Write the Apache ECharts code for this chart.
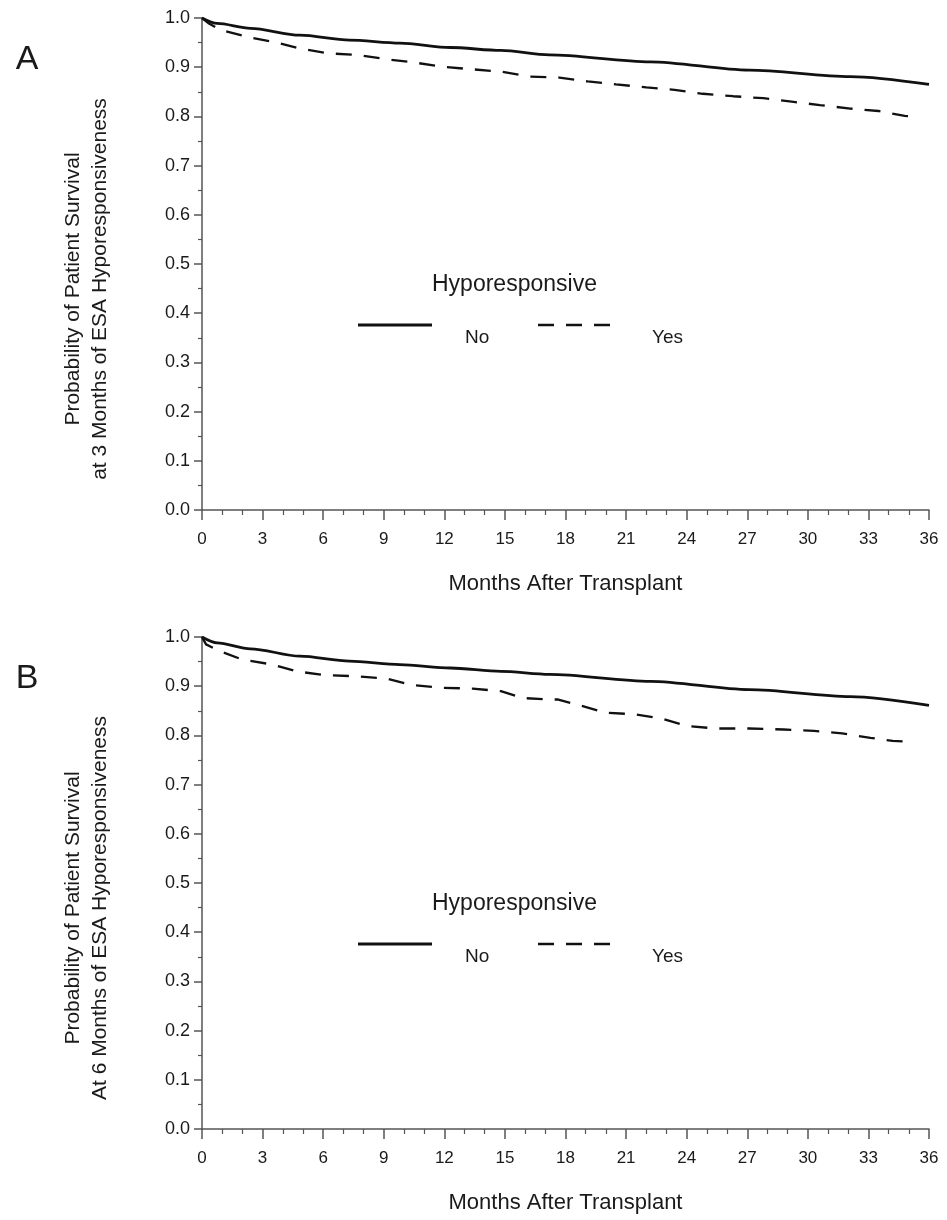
<!DOCTYPE html>
<html>
<head>
<meta charset="utf-8">
<title>Patient survival by ESA hyporesponsiveness</title>
<script src="https://cdn.jsdelivr.net/npm/echarts@6/dist/echarts.min.js"></script>
<style>
    html, body { margin: 0; padding: 0; background: #fff; }
    #main { width: 947px; height: 1220px; }
</style>
</head>
<body>
<div id="main"></div>
<script>
// panel A: hyporesponsiveness at 3 months
const monthsA_no = [0, 0.75, 2.4, 4.85, 7.3, 9.8, 12.3, 14.8, 17.2, 22.2, 27.1, 32.1, 36];
const survA_no = [1.0, 0.989, 0.979, 0.965, 0.955, 0.949, 0.940, 0.934, 0.925, 0.911, 0.894, 0.881, 0.865];
const monthsA_yes = [0, 0.3, 0.9, 2.2, 3.7, 4.85, 6.3, 7.7, 9.2, 10.6, 11.9, 13.3, 14.8, 16.2, 17.7, 19.1, 20.5, 22.0, 23.4, 24.8, 26.3, 27.8, 29.2, 30.6, 32.1, 33.5, 34.8, 35.3];
const survA_yes = [1.0, 0.99, 0.976, 0.962, 0.950, 0.938, 0.928, 0.925, 0.916, 0.909, 0.901, 0.896, 0.891, 0.881, 0.879, 0.871, 0.865, 0.859, 0.854, 0.846, 0.841, 0.837, 0.830, 0.823, 0.816, 0.811, 0.801, 0.800];

// panel B: hyporesponsiveness at 6 months
const monthsB_no = [0, 0.75, 2.4, 4.85, 7.3, 9.8, 12.3, 14.8, 17.2, 22.2, 27.1, 32.1, 36];
const survB_no = [1.0, 0.988, 0.976, 0.961, 0.951, 0.944, 0.937, 0.930, 0.924, 0.910, 0.893, 0.879, 0.861];
const monthsB_yes = [0, 0.2, 0.9, 2.0, 3.5, 4.7, 6.0, 7.7, 9.2, 10.3, 11.8, 13.4, 14.8, 15.9, 17.1, 17.6, 18.8, 20.0, 21.4, 22.8, 24.0, 25.5, 27.1, 28.8, 30.3, 31.7, 33.1, 34.2, 35.0];
const survB_yes = [1.0, 0.985, 0.971, 0.954, 0.944, 0.930, 0.923, 0.920, 0.915, 0.903, 0.897, 0.895, 0.890, 0.876, 0.873, 0.873, 0.860, 0.846, 0.843, 0.834, 0.819, 0.814, 0.814, 0.812, 0.809, 0.804, 0.795, 0.789, 0.787];

const panelLabels = ['A', 'B'];
const yNames = [
    'Probability of Patient Survival\nat 3 Months of ESA Hyporesponsiveness',
    'Probability of Patient Survival\nAt 6 Months of ESA Hyporesponsiveness'
];
const xName = 'Months After Transplant';
const legendTitle = 'Hyporesponsive';
const legendNames = ['No', 'Yes'];

const FONT = '"Liberation Sans", Arial, sans-serif';
const AXIS = '#555';
const INK = '#1a1a1a';
const panelTops = [18, 637];

const pairs = (xs, ys) => xs.map((x, i) => [x, ys[i]]);

const makeX = (gi) => ({
    type: 'value', gridIndex: gi, min: 0, max: 36, interval: 3,
    name: xName, nameLocation: 'middle', nameGap: 63,
    nameTextStyle: { fontSize: 22, color: INK, fontFamily: FONT },
    axisLine: { show: true, onZero: false, lineStyle: { color: AXIS, width: 1.5 } },
    axisTick: { show: true, length: 10, lineStyle: { color: AXIS, width: 1.5 } },
    minorTick: { show: true, splitNumber: 3, length: 5, lineStyle: { color: AXIS, width: 1.2 } },
    axisLabel: { margin: 21, fontSize: 17, color: INK, fontFamily: FONT },
    splitLine: { show: false },
    minorSplitLine: { show: false }
});

const makeY = (gi) => ({
    type: 'value', gridIndex: gi, min: 0, max: 1, interval: 0.1,
    name: yNames[gi], nameLocation: 'middle', nameGap: 88,
    nameTextStyle: { fontSize: 21, lineHeight: 27, color: INK, fontFamily: FONT, padding: [0, 50, 0, 0] },
    axisLine: { show: true, onZero: false, lineStyle: { color: AXIS, width: 1.5 } },
    axisTick: { show: true, length: 8, lineStyle: { color: AXIS, width: 1.5 } },
    minorTick: { show: true, splitNumber: 2, length: 4, lineStyle: { color: AXIS, width: 1.2 } },
    axisLabel: { margin: 12, fontSize: 18, color: INK, fontFamily: FONT, formatter: (v) => v.toFixed(1) },
    splitLine: { show: false },
    minorSplitLine: { show: false }
});

const makeSeries = (gi, name, data, dashed) => ({
    name: name, type: 'line', xAxisIndex: gi, yAxisIndex: gi,
    data: data, showSymbol: false, symbol: 'none',
    smooth: dashed ? false : 0.3, smoothMonotone: 'x',
    lineStyle: { color: '#111', width: dashed ? 2.3 : 2.8, type: dashed ? [16, 12] : 'solid' }
});

// 图例和面板字母
const makeGraphic = (gi) => {
    const dy = panelTops[gi] - panelTops[0];
    return [
        { type: 'text', x: 27, y: 60 + dy, style: { text: panelLabels[gi], fontSize: 34, fontFamily: FONT, fill: INK, align: 'center', verticalAlign: 'middle' } },
        { type: 'text', x: 432, y: 285 + dy, style: { text: legendTitle, fontSize: 23, fontFamily: FONT, fill: INK, align: 'left', verticalAlign: 'middle' } },
        { type: 'line', shape: { x1: 358, y1: 325 + dy, x2: 432, y2: 325 + dy }, style: { stroke: '#111', lineWidth: 2.8 } },
        { type: 'text', x: 465, y: 338 + dy, style: { text: legendNames[0], fontSize: 19, fontFamily: FONT, fill: INK, align: 'left', verticalAlign: 'middle' } },
        { type: 'line', shape: { x1: 538, y1: 325 + dy, x2: 614, y2: 325 + dy }, style: { stroke: '#111', lineWidth: 2.6, lineDash: [16, 12] } },
        { type: 'text', x: 652, y: 338 + dy, style: { text: legendNames[1], fontSize: 19, fontFamily: FONT, fill: INK, align: 'left', verticalAlign: 'middle' } }
    ];
};

const chart = echarts.init(document.getElementById('main'));
const option = {
    animation: false,
    backgroundColor: '#fff',
    textStyle: { fontFamily: FONT },
    grid: panelTops.map((t) => ({ left: 202, top: t, width: 727, height: 492, containLabel: false, outerBoundsMode: 'none' })),
    xAxis: [makeX(0), makeX(1)],
    yAxis: [makeY(0), makeY(1)],
    series: [
        makeSeries(0, 'No', pairs(monthsA_no, survA_no), false),
        makeSeries(0, 'Yes', pairs(monthsA_yes, survA_yes), true),
        makeSeries(1, 'No', pairs(monthsB_no, survB_no), false),
        makeSeries(1, 'Yes', pairs(monthsB_yes, survB_yes), true)
    ],
    graphic: [...makeGraphic(0), ...makeGraphic(1)]
};
chart.setOption(option);
</script>
</body>
</html>
